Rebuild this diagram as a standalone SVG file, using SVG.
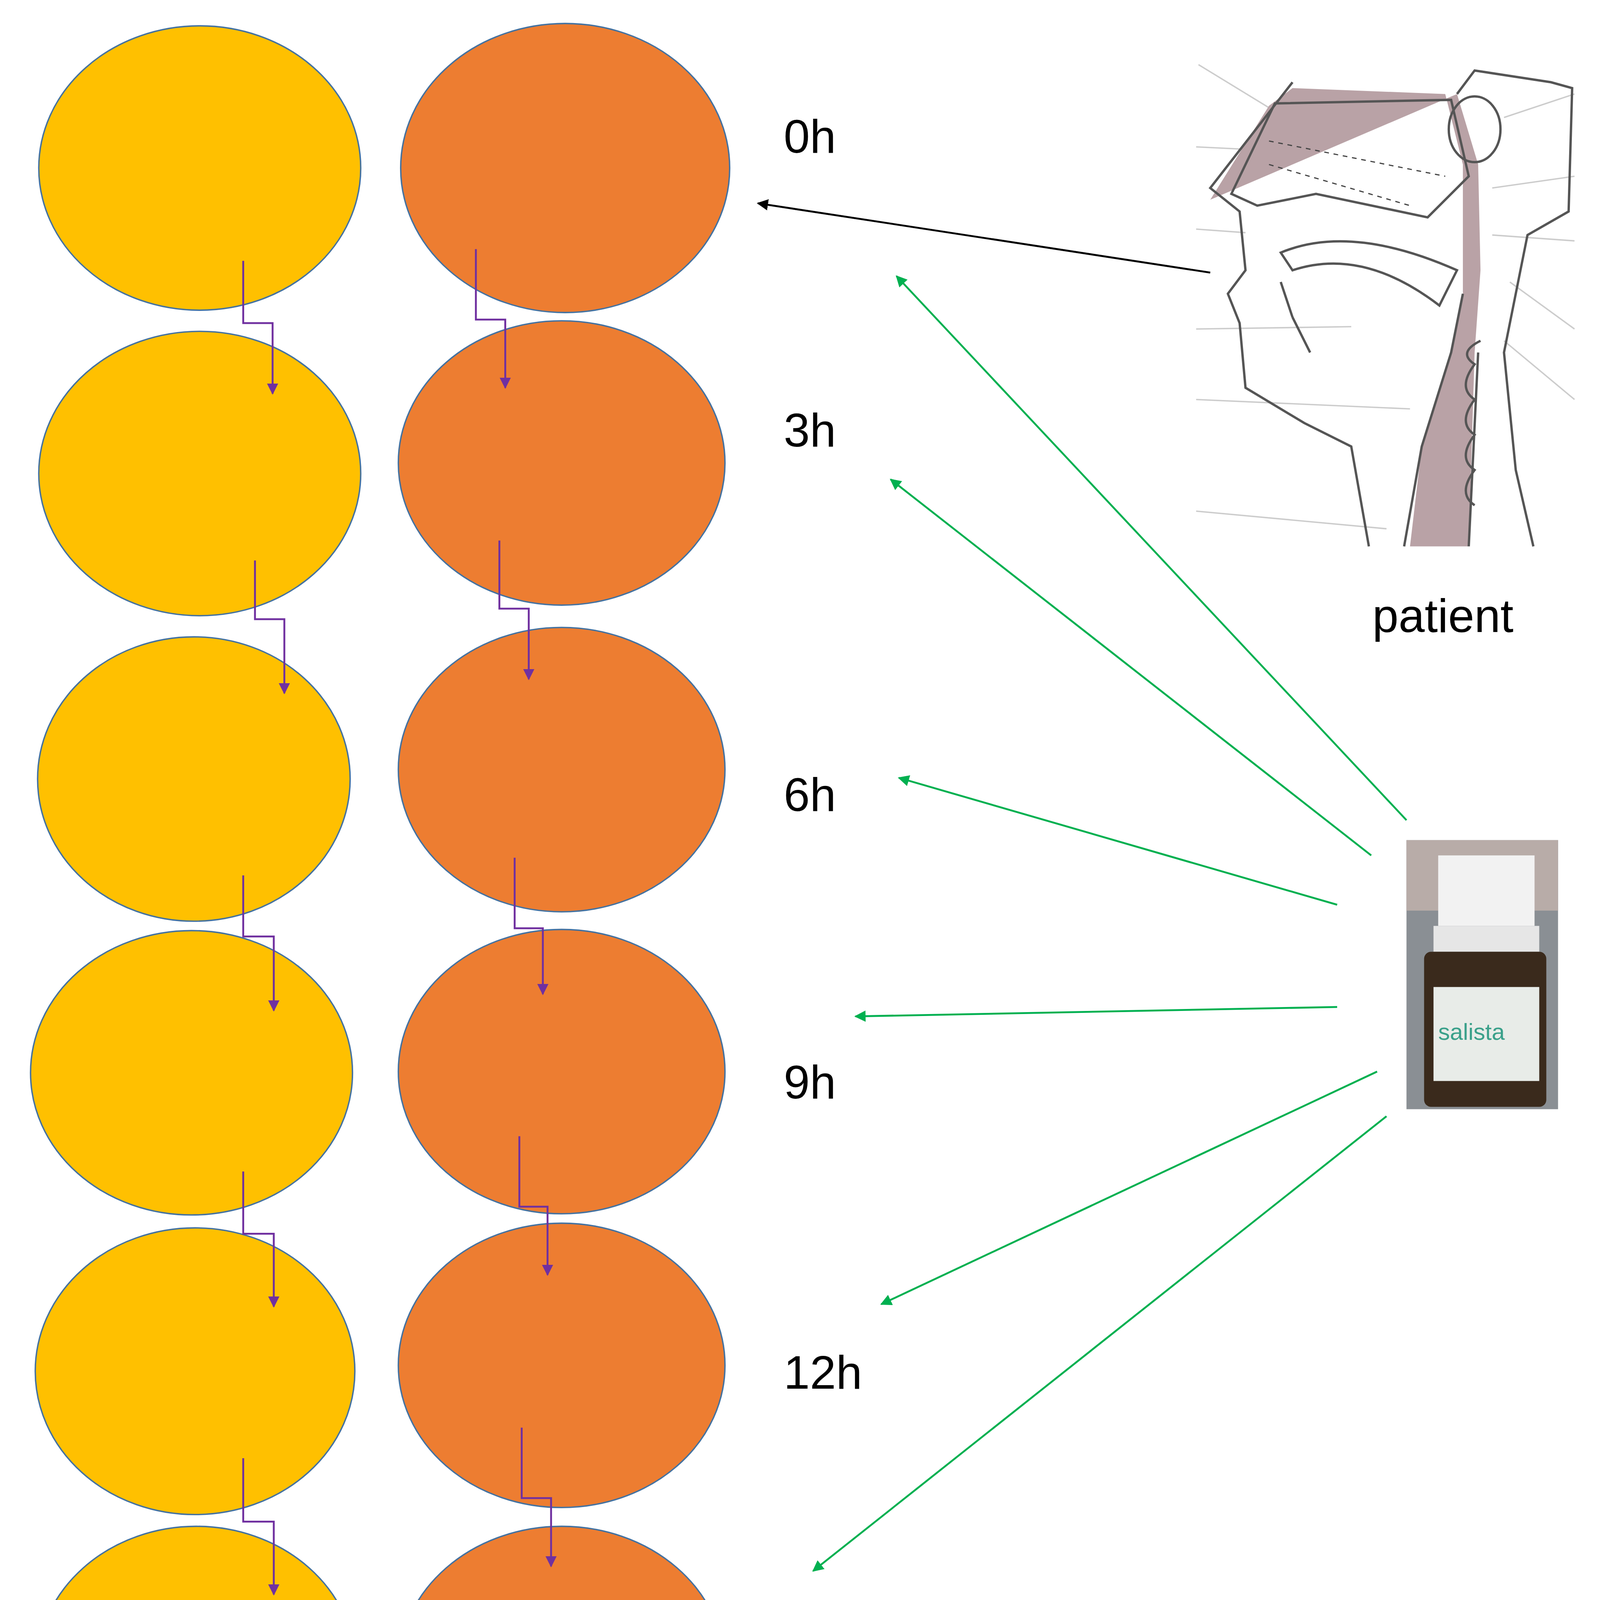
<svg xmlns="http://www.w3.org/2000/svg" width="4163" height="4685" viewBox="0 0 4163 4685">
<style>
.y{fill:#FFC000;stroke:#4472A0;stroke-width:1.2}
.o{fill:#ED7D31;stroke:#4472A0;stroke-width:1.2}
.p{fill:none;stroke:#7030A0;stroke-width:1.6}
.g{fill:none;stroke:#00B050;stroke-width:1.6}
.t{font-family:"Liberation Sans",Arial,sans-serif;font-size:40px;fill:#000}
.hl{fill:none;stroke:#555;stroke-width:2}
.gl{fill:none;stroke:#ccc;stroke-width:1.2}
</style>
<defs>
<marker id="mp" viewBox="0 0 10 10" refX="9" refY="5" markerWidth="6" markerHeight="6" orient="auto"><path d="M0,0L10,5L0,10z" fill="#7030A0"/></marker>
<marker id="mg" viewBox="0 0 10 10" refX="9" refY="5" markerWidth="6" markerHeight="6" orient="auto"><path d="M0,0L10,5L0,10z" fill="#00B050"/></marker>
<marker id="mk" viewBox="0 0 10 10" refX="9" refY="5" markerWidth="6" markerHeight="6" orient="auto"><path d="M0,0L10,5L0,10z" fill="#000"/></marker>
</defs>
<rect width="4163" height="4685" fill="#fff"/>
<g transform="scale(3.008)">
<g id="yellow">
<ellipse id="y1" class="y" cx="170" cy="143" rx="137" ry="121"/>
<ellipse id="y2" class="y" cx="170" cy="403" rx="137" ry="121"/>
<ellipse id="y3" class="y" cx="165" cy="663" rx="133" ry="121"/>
<ellipse id="y4" class="y" cx="163" cy="913" rx="137" ry="121"/>
<ellipse id="y5" class="y" cx="166" cy="1167" rx="136" ry="122"/>
<ellipse id="y6" class="y" cx="167" cy="1420" rx="136" ry="121"/>
</g>
<g id="orange">
<ellipse id="o1" class="o" cx="481" cy="143" rx="140" ry="123"/>
<ellipse id="o2" class="o" cx="478" cy="394" rx="139" ry="121"/>
<ellipse id="o3" class="o" cx="478" cy="655" rx="139" ry="121"/>
<ellipse id="o4" class="o" cx="478" cy="912" rx="139" ry="121"/>
<ellipse id="o5" class="o" cx="478" cy="1162" rx="139" ry="121"/>
<ellipse id="o6" class="o" cx="478" cy="1420" rx="139" ry="121"/>
</g>
<g id="labels">
<text class="t" x="667" y="130">0h</text>
<text class="t" x="667" y="380">3h</text>
<text class="t" x="667" y="690">6h</text>
<text class="t" x="667" y="935">9h</text>
<text class="t" x="667" y="1182">12h</text>
<text class="t" x="667" y="1430">24h</text>
<text class="t" x="1168" y="538">patient</text>
</g>
<g id="patient">
<g class="gl"><path d="M1020,55L1110,110M1018,125L1080,128M1018,195L1060,198M1018,280L1150,278M1018,340L1200,348M1018,435L1180,450M1280,100L1340,80M1270,160L1340,150M1270,200L1340,205M1285,240L1340,280M1280,290L1340,340"/></g>
<path d="M1030,170L1080,90L1100,75L1230,80L1245,140L1245,250L1235,300L1210,380L1200,465L1250,465L1255,300L1260,230L1258,140L1240,80Z" fill="#B9A2A6"/>
<path d="M1048,165L1085,88L1235,85L1250,150L1215,185L1120,165L1070,175Z" fill="#B9A2A6" class="hl"/>
<path d="M1090,215Q1150,190 1240,230L1225,260Q1160,210 1100,230Z" fill="#B9A2A6" class="hl"/>
<ellipse cx="1255" cy="110" rx="22" ry="28" fill="#9A8488" class="hl"/>
<path class="hl" d="M1100,70L1030,160L1055,180L1060,230L1045,250L1055,275L1060,330L1110,360L1150,380L1165,465"/>
<path class="hl" d="M1240,80L1255,60L1320,70L1338,75L1335,180L1300,200L1280,300L1290,400L1305,465"/>
<path class="hl" d="M1245,250L1235,300L1210,380L1195,465M1258,300L1250,465"/>
<path class="hl" d="M1260,290Q1240,300 1255,310Q1240,330 1255,340Q1240,360 1255,370Q1240,390 1255,400Q1240,420 1255,430"/>
<path class="hl" d="M1100,270L1115,300M1090,240L1100,270" stroke-width="4"/>
<path fill="none" stroke="#444" stroke-width="1" stroke-dasharray="4,4" d="M1080,120L1230,150M1080,140L1200,175"/>
</g>
<g id="bottle">
<rect x="1197" y="715" width="129" height="229" fill="#8a8f94"/>
<rect x="1197" y="715" width="129" height="60" fill="#b8aca8"/>
<rect x="1224" y="728" width="82" height="60" fill="#f2f2f2"/>
<rect x="1220" y="788" width="90" height="22" fill="#e6e6e6"/>
<rect x="1212" y="810" width="104" height="132" rx="6" fill="#3a2a1c"/>
<rect x="1220" y="840" width="90" height="80" fill="#e8ece8"/>
<text x="1224" y="885" font-family="'Liberation Sans',Arial,sans-serif" font-size="20" fill="#3aa08a">salista</text>
</g>
<g id="connectors">
<path class="p" marker-end="url(#mp)" d="M207,222V275H232V335"/>
<path class="p" marker-end="url(#mp)" d="M217,477V527H242V590"/>
<path class="p" marker-end="url(#mp)" d="M207,745V797H233V860"/>
<path class="p" marker-end="url(#mp)" d="M207,997V1050H233V1112"/>
<path class="p" marker-end="url(#mp)" d="M207,1241V1295H233V1357"/>
<path class="p" marker-end="url(#mp)" d="M405,212V272H430V330"/>
<path class="p" marker-end="url(#mp)" d="M425,460V518H450V578"/>
<path class="p" marker-end="url(#mp)" d="M438,730V790H462V846"/>
<path class="p" marker-end="url(#mp)" d="M442,967V1027H466V1085"/>
<path class="p" marker-end="url(#mp)" d="M444,1215V1275H469V1333"/>
<line class="g" marker-end="url(#mg)" x1="1197" y1="698" x2="763" y2="235"/>
<line class="g" marker-end="url(#mg)" x1="1167" y1="728" x2="758" y2="408"/>
<line class="g" marker-end="url(#mg)" x1="1138" y1="770" x2="765" y2="662"/>
<line class="g" marker-end="url(#mg)" x1="1138" y1="857" x2="728" y2="865"/>
<line class="g" marker-end="url(#mg)" x1="1172" y1="912" x2="750" y2="1110"/>
<line class="g" marker-end="url(#mg)" x1="1180" y1="950" x2="692" y2="1337"/>
<line fill="none" stroke="#000" stroke-width="1.6" marker-end="url(#mk)" x1="1030" y1="232" x2="645" y2="173"/>
</g>
</g>
</svg>
